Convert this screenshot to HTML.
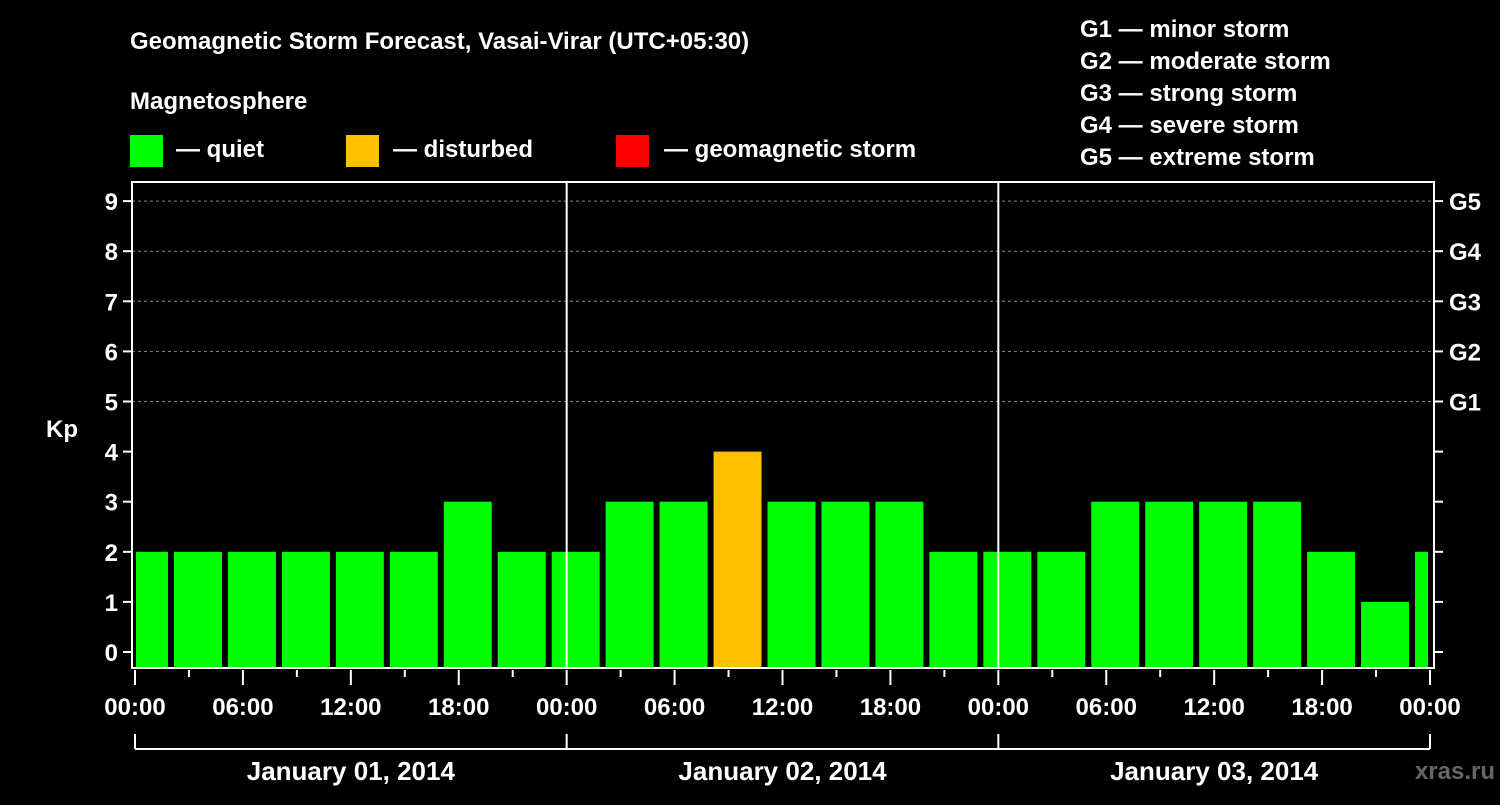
<!DOCTYPE html>
<html><head><meta charset="utf-8"><style>
body{margin:0;background:#000;width:1500px;height:800px;overflow:hidden}
svg text{font-family:"Liberation Sans",sans-serif;font-weight:bold;fill:#fff}
</style></head><body>
<svg id="c" width="1500" height="800">
<text x="130" y="49" font-size="24">Geomagnetic Storm Forecast, Vasai-Virar (UTC+05:30)</text>
<text x="130" y="109" font-size="24">Magnetosphere</text>
<g><rect x="130" y="135" width="33" height="32" fill="#00ff00"/><text x="176" y="157" font-size="24">— quiet</text></g>
<g><rect x="346" y="135" width="33" height="32" fill="#ffc000"/><text x="393" y="157" font-size="24">— disturbed</text></g>
<g><rect x="616" y="135" width="33" height="32" fill="#ff0000"/><text x="664" y="157" font-size="24">— geomagnetic storm</text></g>
<g font-size="24">
<text x="1080" y="37">G1 — minor storm</text>
<text x="1080" y="69">G2 — moderate storm</text>
<text x="1080" y="101">G3 — strong storm</text>
<text x="1080" y="133">G4 — severe storm</text>
<text x="1080" y="165">G5 — extreme storm</text>
</g>
<text x="62" y="437" font-size="24" text-anchor="middle">Kp</text>
<text x="1495" y="779" font-size="24" text-anchor="end" fill="#555" style="fill:#666">xras.ru</text>
<g id="plot"></g>
</svg>
<script>
const kpValues=[2,2,2,2,2,2,3,2,2,3,3,4,3,3,3,2,2,2,3,3,3,3,2,1,2];
const binStartHours=[-1,2,5,8,11,14,17,20,23,26,29,32,35,38,41,44,47,50,53,56,59,62,65,68,71];
const yTicks=[0,1,2,3,4,5,6,7,8,9];
const gLabels=["G1","G2","G3","G4","G5"];
const xTickLabels=["00:00","06:00","12:00","18:00","00:00","06:00","12:00","18:00","00:00","06:00","12:00","18:00","00:00"];
const dayLabels=["January 01, 2014","January 02, 2014","January 03, 2014"];
const L=132,R=1434,T=182,B=668,X0=135,X1=1430;
const x=h=>X0+h*(X1-X0)/72;
const y=v=>652-v*50.1;
const ns="http://www.w3.org/2000/svg";
const g=document.getElementById('plot');
function mk(tag,a){const e=document.createElementNS(ns,tag);for(const k in a)e.setAttribute(k,a[k]);g.appendChild(e);return e;}
// grid
for(const v of yTicks){if(v>=5){const e=mk('line',{x1:L,x2:R,y1:y(v),y2:y(v),stroke:'#888','stroke-dasharray':'3,3','stroke-width':1});

}}
// bars
kpValues.forEach((v,i)=>{let x0=x(binStartHours[i])+3,x1=x(binStartHours[i]+3)-3;x0=Math.max(x0,L+4);x1=Math.min(x1,X1-2);
const c=v>=5?'#ff0000':(v>=4?'#ffc000':'#00ff00');
const e=mk('rect',{x:x0,y:y(v),width:x1-x0,height:B-y(v),fill:c});

});
// day separators
[24,48].forEach(h=>{const e=mk('line',{x1:x(h),x2:x(h),y1:T,y2:B,stroke:'#fff','stroke-width':2});

});
// frame
const fr=mk('rect',{x:L,y:T,width:R-L,height:B-T,fill:'none',stroke:'#fff','stroke-width':2});


// y ticks
yTicks.forEach(v=>{mk('line',{x1:L-9,x2:L,y1:y(v),y2:y(v),stroke:'#fff','stroke-width':2});
mk('line',{x1:R,x2:R+9,y1:y(v),y2:y(v),stroke:'#fff','stroke-width':2});
const t=mk('text',{x:L-14,y:y(v)+9,'font-size':24,'text-anchor':'end'});t.textContent=v;


if(v>=5){const r=mk('text',{x:R+15,y:y(v)+9,'font-size':24});r.textContent=gLabels[v-5];

}});
// x ticks
for(let h=0;h<=72;h+=3){const maj=h%6===0;mk('line',{x1:x(h),x2:x(h),y1:B+2,y2:B+(maj?17:9),stroke:'#fff','stroke-width':2});}
xTickLabels.forEach((s,i)=>{const t=mk('text',{x:x(i*6),y:715,'font-size':24,'text-anchor':'middle'});t.textContent=s;

});
// bracket
mk('line',{x1:X0,x2:X1,y1:749,y2:749,stroke:'#fff','stroke-width':2});
[0,24,48,72].forEach(h=>mk('line',{x1:x(h),x2:x(h),y1:734,y2:749,stroke:'#fff','stroke-width':2}));
dayLabels.forEach((s,i)=>{const t=mk('text',{x:x(i*24+12),y:780,'font-size':26,'text-anchor':'middle'});t.textContent=s;

});
</script>
</body></html>
